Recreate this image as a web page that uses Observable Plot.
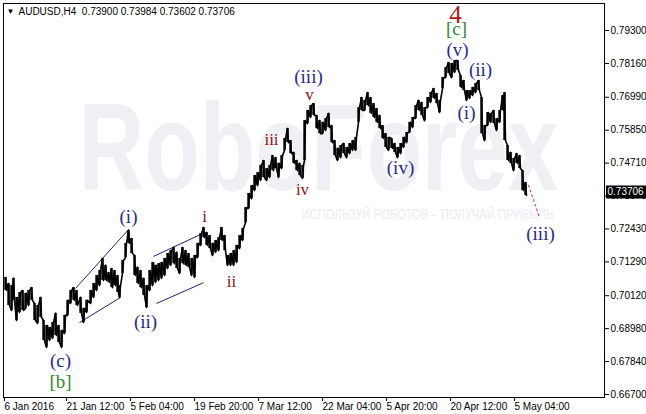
<!DOCTYPE html>
<html><head><meta charset="utf-8">
<script src="https://cdn.jsdelivr.net/npm/d3@7"></script>
<script src="https://cdn.jsdelivr.net/npm/@observablehq/plot@0.6"></script>
<style>body{margin:0;background:#fff}</style>
</head><body><div id="chart"></div>
<script>
// H4 bars (bar index from 6 Jan 2016), high and low prices
const barIdx = [1,4,7,9,12,15,18,21,24,27,30,33,36,39,42,45,48,51,54,57,60,63,66,69,72,76,79,82,86,89,92,95,98,101,104,107,110,113,115,118,121,124,127,130,133,136,139,142,145,148,151,154,157,160,163,166,169,172,175,178,181,184,187,190,193,196,199,202,205,208,211,214,217,220,223,226,229,232,235,238,241,244,247,250,253,256,259,262,265,268,271,274,277,280,283,286,289,292,295,298,300,303,306,309,312,315,318,321,324,327,330,333,336,339,342,345,348,351,354,357,360,363,366,369,372,375,378,381,384,387,390,393,396,399,402,405,408,411,414,417,420,423,426,429,432,435,438,441,444,447,450,453,456,459,462,465,468,471,474,477,480,483,486,489,492,495,498,500,503,506,509,512,515,518,521];
const barHigh = [.7075,.7054,.7047,.7072,.7006,.7023,.7030,.7020,.7030,.7040,
.6985,.6978,.7006,.6926,.6909,.6902,.6919,.6951,.6909,.6892,
.6944,.6996,.7030,.7040,.7030,.7006,.6968,.6996,.7030,.7054,
.7082,.7099,.7141,.7117,.7092,.7106,.7099,.7082,.7047,.7134,
.7193,.7238,.7210,.7151,.7110,.7099,.7072,.7047,.7099,.7127,
.7117,.7123,.7127,.7141,.7158,.7168,.7179,.7162,.7141,.7179,
.7168,.7158,.7141,.7151,.7193,.7227,.7248,.7231,.7220,.7193,
.7203,.7213,.7248,.7220,.7151,.7158,.7168,.7186,.7220,.7245,
.7317,.7366,.7393,.7428,.7438,.7463,.7480,.7452,.7463,.7497,
.7490,.7470,.7497,.7556,.7591,.7549,.7508,.7480,.7470,.7463,
.7618,.7653,.7670,.7677,.7636,.7618,.7612,.7625,.7643,.7601,
.7549,.7522,.7532,.7539,.7525,.7539,.7549,.7560,.7663,.7698,
.7688,.7715,.7698,.7677,.7660,.7636,.7601,.7573,.7560,.7556,
.7539,.7525,.7539,.7560,.7577,.7612,.7629,.7670,.7688,.7681,
.7663,.7698,.7715,.7729,.7712,.7688,.7767,.7802,.7819,.7816,
.7826,.7826,.7774,.7757,.7722,.7722,.7733,.7747,.7757,.7698,
.7601,.7646,.7643,.7653,.7625,.7653,.7705,.7715,.7532,.7508,
.7487,.7504,.7497,.7445,.7404];
const barLow = [.7030,.6978,.6961,.6996,.6926,.6954,.6961,.6968,.6978,.6996,
.6926,.6916,.6937,.6857,.6833,.6857,.6864,.6874,.6850,.6833,
.6881,.6944,.6985,.6996,.6978,.6951,.6919,.6954,.6985,.7006,
.7030,.7047,.7065,.7065,.7058,.7040,.7047,.7023,.7006,.7089,
.7144,.7193,.7158,.7082,.7054,.7040,.7013,.6971,.7030,.7047,
.7058,.7065,.7072,.7082,.7106,.7117,.7123,.7106,.7089,.7123,
.7117,.7110,.7082,.7075,.7144,.7186,.7213,.7186,.7175,.7151,
.7162,.7168,.7203,.7168,.7117,.7117,.7117,.7127,.7175,.7203,
.7265,.7314,.7348,.7376,.7393,.7411,.7421,.7411,.7421,.7445,
.7452,.7421,.7452,.7515,.7542,.7504,.7470,.7445,.7428,.7418,
.7480,.7608,.7629,.7636,.7591,.7573,.7573,.7584,.7594,.7542,
.7497,.7480,.7490,.7504,.7490,.7504,.7515,.7515,.7612,.7653,
.7653,.7670,.7643,.7629,.7612,.7591,.7556,.7525,.7515,.7522,
.7508,.7490,.7504,.7525,.7542,.7577,.7594,.7625,.7653,.7636,
.7618,.7663,.7681,.7695,.7677,.7646,.7729,.7767,.7781,.7767,
.7785,.7792,.7733,.7722,.7688,.7695,.7705,.7715,.7722,.7573,
.7549,.7601,.7612,.7608,.7584,.7612,.7653,.7549,.7480,.7470,
.7445,.7470,.7452,.7376,.7359];
const lastClose = 0.73706;
const titleText = "AUDUSD,H4  0.73900 0.73984 0.73602 0.73706";

const yTicks = [0.79300,0.78160,0.76990,0.75850,0.74710,0.73570,0.72430,0.71290,0.70120,0.68980,0.67840,0.66700];
const xTickIdx = [0,62,126,190,254,318,382,446,510];
const xTickLabels = ["6 Jan 2016","21 Jan 12:00","5 Feb 04:00","19 Feb 20:00","7 Mar 12:00","22 Mar 04:00","5 Apr 20:00","20 Apr 12:00","5 May 04:00"];

// Elliott wave labels
const waveText  = ["(c)","[b]","(i)","(ii)","i","ii","iii","iv","(iii)","v","(iv)","(v)","[c]","4","(ii)","(i)","(iii)"];
const waveIdx   = [56,56,124,141,200,227,267,298,304,305,396,453,452,451,476,462,536];
const wavePrice = [0.6788,0.6715,0.7286,0.6923,0.7286,0.7061,0.7553,0.7379,0.7771,0.7708,0.7456,0.7864,0.7934,0.7985,0.7792,0.7646,0.7227];
const waveDegree= ["minute","minor","minute","minute","minuette","minuette","minuette","minuette","minute","minuette","minute","minute","minor","intermediate","minute","minute","minute"];

// channel lines
const chanIdx1 = [71,75,149,152];
const chanP1   = [0.7037,0.6919,0.7148,0.6985];
const chanIdx2 = [124,116,198,199];
const chanP2   = [0.7241,0.7006,0.7227,0.7057];

// projected path
const projIdx = [524,535];
const projPrice = [0.7394,0.7283];

// watermark
const wmIdx = 314, wmPrice = 0.7515;
const wm2Idx = 423, wm2Price = 0.7293;
const wmText = "RoboForex";
const wm2Text = "ИСПОЛЬЗУЙ РОБОТОВ – ПОЛУЧАЙ ПРИБЫЛЬ";

const bars = barIdx.map((x,i)=>({x, hi: barHigh[i], lo: barLow[i]}));
// zig-zag path through each bar's extremes, to draw the bar texture
const zig = [];
bars.forEach((b,i)=>{
  const next = bars[i+1];
  const goingUp = next ? (next.hi + next.lo) > (b.hi + b.lo) : false;
  if (goingUp) { zig.push({x:b.x, y:b.lo}); zig.push({x:b.x+1, y:b.hi}); }
  else { zig.push({x:b.x, y:b.hi}); zig.push({x:b.x+1, y:b.lo}); }
});
const waves = waveText.map((t,i)=>({t, x: waveIdx[i], y: wavePrice[i], d: waveDegree[i]}));
const chans = chanIdx1.map((x,i)=>({x1:x, y1:chanP1[i], x2:chanIdx2[i], y2:chanP2[i]}));
const proj = projIdx.map((x,i)=>({x, y: projPrice[i]}));
const xLabelMap = new Map(xTickIdx.map((d,i)=>[d, xTickLabels[i]]));

const serif = "'Liberation Serif','Times New Roman',serif";
const degreeColor = {minute:"#2b2b8f", minuette:"#8b1414", minor:"#2e8b2e", intermediate:"#b01818"};
const degreeSize = {minute:19, minuette:17, minor:19, intermediate:25};

const marks = [
  Plot.text([wmText], {x: wmIdx, y: wmPrice, fontSize: 125, fontWeight: "bold", fill: "#eef0f4", fontFamily: "'Liberation Sans',Arial,sans-serif"}),
  Plot.text([wm2Text], {x: wm2Idx, y: wm2Price, fontSize: 14, fill: "#eaedf2", fontFamily: "'Liberation Sans',Arial,sans-serif"}),
  Plot.frame({stroke: "#000"}),
  Plot.link(chans, {x1:"x1", y1:"y1", x2:"x2", y2:"y2", stroke: "#20207a", strokeWidth: 1}),
  Plot.ruleX(bars, {x: "x", y1: "lo", y2: "hi", stroke: "#000", strokeWidth: 2.4}),
  Plot.line(zig, {x: "x", y: "y", stroke: "#000", strokeWidth: 1.6}),
  Plot.line(proj, {x: "x", y: "y", stroke: "#e0203c", strokeWidth: 1, strokeDasharray: "2,3"}),
  ...Object.keys(degreeColor).map(d => Plot.text(waves.filter(w=>w.d===d), {x:"x", y:"y", text:"t", fill: degreeColor[d], fontSize: degreeSize[d], fontFamily: serif, textAnchor:"middle", lineAnchor:"middle"})),
  Plot.axisY({ticks: yTicks, anchor: "right", tickSize: 4, tickPadding: 2, tickFormat: d=>d.toFixed(5), label: null, fontSize: 10}),
  Plot.axisX({ticks: xTickIdx, anchor: "bottom", tickSize: 4, tickPadding: 1, tickFormat: d=>xLabelMap.get(d), textAnchor: "start", label: null, fontSize: 10}),
  Plot.ruleY([lastClose], {x1: 602, x2: 645, stroke: "#000", strokeWidth: 13}),
  Plot.text([lastClose], {x: 603, y: d=>d, text: d=>d.toFixed(5), fill: "#fff", textAnchor: "start", fontSize: 10}),
  Plot.text(["▼"], {frameAnchor: "top-left", dx: 3, dy: 5, fontSize: 8, textAnchor: "start", lineAnchor: "top"}),
  Plot.text([titleText], {frameAnchor: "top-left", dx: 15, dy: 4, fontSize: 10, textAnchor: "start", lineAnchor: "top", fill: "#000"})
];

const chart = Plot.plot({
  width: 646, height: 414,
  marginLeft: 3, marginRight: 42, marginTop: 3, marginBottom: 17,
  x: {type: "linear", domain: [-1, 600], axis: null},
  y: {type: "linear", domain: [0.66596, 0.80235], axis: null},
  style: {fontFamily: "'Liberation Sans',Arial,sans-serif", fontSize: "10px", color: "#000", background: "#fff", overflow: "visible"},
  marks
});
document.getElementById("chart").appendChild(chart);
d3.select(chart).selectAll("text").each(function(){
  const t = this.textContent;
  if (t === wmText) d3.select(this).attr("textLength", 480).attr("lengthAdjust", "spacingAndGlyphs");
  if (t === wm2Text) d3.select(this).attr("textLength", 252).attr("lengthAdjust", "spacingAndGlyphs");
});
</script></body></html>
